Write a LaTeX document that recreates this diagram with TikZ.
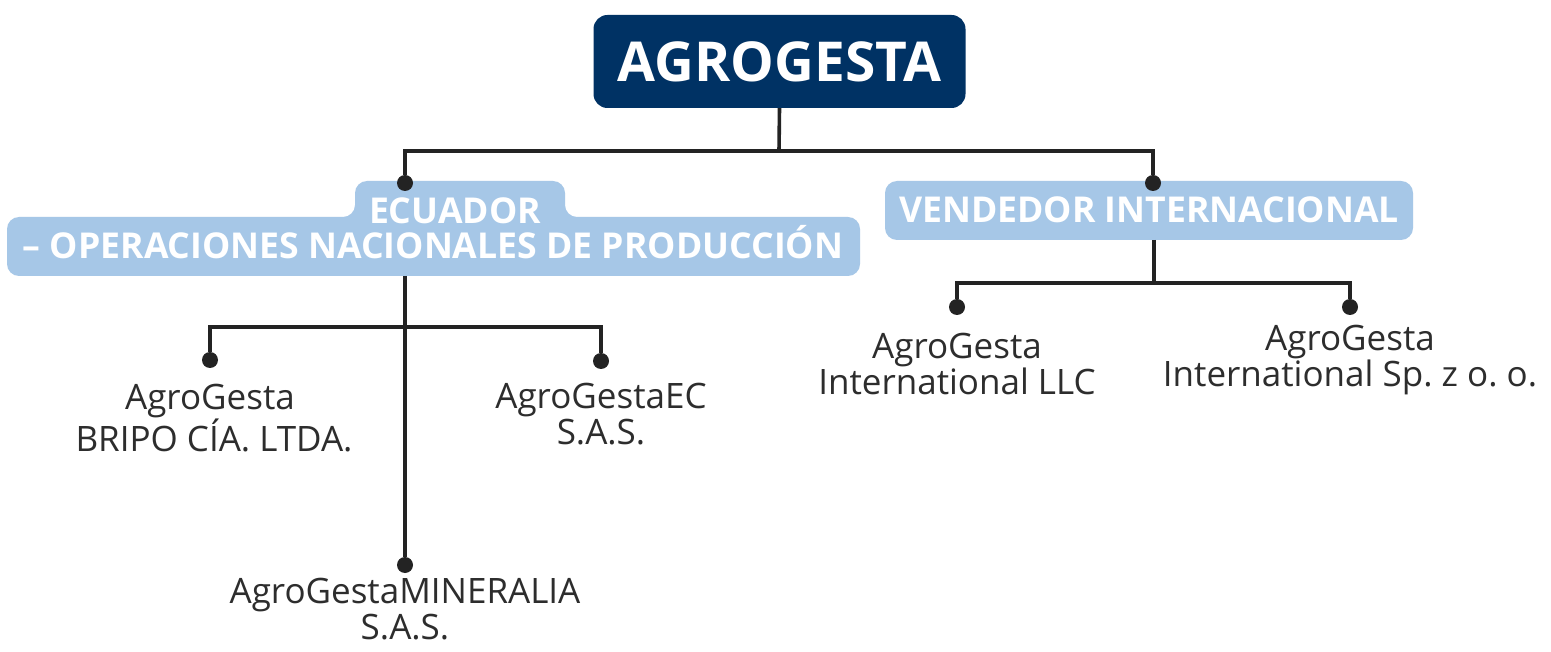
\documentclass[tikz,border=0pt]{standalone}
\usepackage{fontspec}
\setmainfont{Open Sans}
\frenchspacing
\definecolor{navy}{RGB}{0,50,100}
\definecolor{lblue}{RGB}{166,199,231}
\definecolor{lnk}{RGB}{35,35,35}
\definecolor{txt}{RGB}{45,45,45}
\begin{document}
\begin{tikzpicture}[x=1pt,y=-1pt,
  rootbox/.style={fill=navy, rounded corners=14pt, text=white,
    font=\bfseries\fontsize{55}{60}\selectfont, minimum width=372pt,
    minimum height=93pt, inner sep=0pt},
  cattext/.style={text=white, font=\bfseries\fontsize{35.6}{35}\selectfont,
    inner sep=0pt, align=center},
  leaf/.style={text=txt, font=\fontsize{35}{36}\selectfont, align=center,
    inner sep=0pt, anchor=north},
  link/.style={draw=lnk, line width=3.6pt},
  dotnode/.style={fill=lnk, circle, inner sep=0pt, minimum size=16pt}]
\useasboundingbox (0,0) rectangle (1551,652);
\fill[white] (0,0) rectangle (1551,652);

% boxes
\node[rootbox] (root) at (779.5,61.5) {AGROGESTA};
\fill[lblue, rounded corners=12pt] (7,246) -- (7,217) -- (355,217) -- (355,181)
  -- (565,181) -- (565,217) -- (860,217) -- (860,276) -- (7,276) -- cycle;
\fill[lblue, rounded corners=12pt] (885,181) rectangle (1413,240);

\node[cattext, anchor=north] (ec) at (433,197)
  {\hspace*{44pt}ECUADOR\\– OPERACIONES NACIONALES DE PRODUCCIÓN};
\node[cattext] (ven) at (1149,210) {VENDEDOR INTERNACIONAL};

% connector anchor points
\coordinate (j0) at (779,151);
\coordinate (ecb) at (405,276);
\coordinate (j1) at (405,327);
\coordinate (vb) at (1154,240);
\coordinate (j2) at (1154,283);

% dots
\node[dotnode] (dEc) at (405,183) {};
\node[dotnode] (dVen) at (1153,183) {};
\node[dotnode] (dBri) at (210,360) {};
\node[dotnode] (dEC) at (601,361) {};
\node[dotnode] (dMin) at (405,565) {};
\node[dotnode] (dLLC) at (957,307) {};
\node[dotnode] (dSp) at (1350,307) {};

% connectors
\draw[link] (root.south) -- (j0);
\draw[link] (dEc) |- (j0) -| (dVen);
\draw[link] (ecb) -- (dMin);
\draw[link] (dBri) |- (j1) -| (dEC);
\draw[link] (vb) -- (j2);
\draw[link] (dLLC) |- (j2) -| (dSp);

% leaves
\node[leaf] (bri) at (210,384) {AgroGesta\\\hspace*{8pt}BRIPO CÍA. LTDA.};
\node[leaf] (ecsas) at (601,383) {AgroGestaEC\\S.A.S.};
\node[leaf] (min) at (405,578) {AgroGestaMINERALIA\\S.A.S.};
\node[leaf] (llc) at (957,333) {AgroGesta\\International LLC};
\node[leaf] (sp) at (1350,325) {AgroGesta\\International Sp. z o. o.};
\end{tikzpicture}
\end{document}
